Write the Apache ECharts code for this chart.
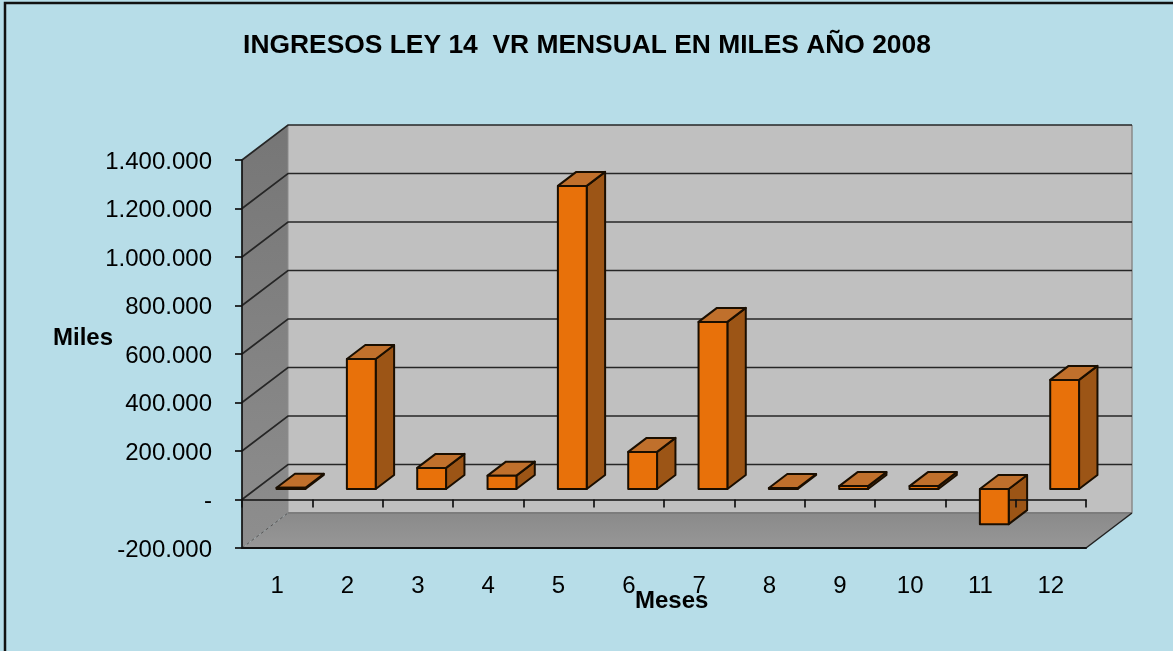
<!DOCTYPE html>
<html><head><meta charset="utf-8">
<style>html,body{margin:0;padding:0;background:#b7dde8}#c{width:1173px;height:651px}</style>
<script src="https://cdn.jsdelivr.net/npm/echarts@6/dist/echarts.min.js"></script>
</head><body><div id="c"></div>
<script>
const categories = ['1','2','3','4','5','6','7','8','9','10','11','12'];
const values = [5000, 536000, 87000, 55000, 1250000, 153000, 689000, 4000, 12000, 12000, -145000, 450000];
const yTicks = [-200000,0,200000,400000,600000,800000,1000000,1200000,1400000];
const yTickLabels = ['-200.000','-','200.000','400.000','600.000','800.000','1.000.000','1.200.000','1.400.000'];
const chartTitle = 'INGRESOS LEY 14  VR MENSUAL EN MILES AÑO 2008';
const xName = 'Meses', yName = 'Miles';

const FONT = '"Liberation Sans", Arial, sans-serif';
const DX = 46, DY = -35;          // full depth of the box
const BAR_D0 = 0.30, BAR_D1 = 0.70; // bar depth as share of box depth
const BAR_W = 0.41;

const yMin = yTicks[0], yMax = yTicks[yTicks.length-1];
function extent(api){
  const band = api.size([1,0])[0];
  return {
    l: api.coord([0,0])[0]-band/2,
    r: api.coord([categories.length-1,0])[0]+band/2,
    t: api.coord([0,yMax])[1],
    b: api.coord([0,yMin])[1]
  };
}
const poly = (pts,style,z2) => ({type:'polygon',shape:{points:pts},style,z2});
const vGrad = (a,b) => new echarts.graphic.LinearGradient(0,0,0,1,[{offset:0,color:a},{offset:1,color:b}]);

function renderWalls(p,api){
  const e = extent(api);
  return {type:'group',children:[
    poly([[e.l+DX,e.t+DY],[e.r+DX,e.t+DY],[e.r+DX,e.b+DY],[e.l+DX,e.b+DY]],{fill:'#c0c0c0'}),
    poly([[e.l,e.t],[e.l+DX,e.t+DY],[e.l+DX,e.b+DY],[e.l,e.b]],{fill:vGrad('#767676','#8e8e8e')}),
    poly([[e.l,e.b],[e.r,e.b],[e.r+DX,e.b+DY],[e.l+DX,e.b+DY]],{fill:vGrad('#8a8a8a','#979797')}),
    {type:'line',shape:{x1:e.r+DX,y1:e.t+DY,x2:e.r+DX,y2:e.b+DY},style:{stroke:'#8a8a8a',lineWidth:1.5}},
    {type:'line',shape:{x1:e.l+DX,y1:e.t+DY,x2:e.l+DX,y2:e.b+DY},style:{stroke:'#8c8c8c',lineWidth:1}},
    {type:'line',shape:{x1:e.l+DX,y1:e.b+DY,x2:e.r+DX,y2:e.b+DY},style:{stroke:'#7c7c7c',lineWidth:2}},
    {type:'line',shape:{x1:e.r,y1:e.b,x2:e.r+DX,y2:e.b+DY},style:{stroke:'#222',lineWidth:1.5}}
  ]};
}
function renderGrid(p,api){
  const e = extent(api), v = api.value(0);
  const y = api.coord([0,v])[1];
  if(v===yMin) return {type:'polyline',shape:{points:[[e.l,y],[e.l+DX,y+DY]]},style:{stroke:'#555',lineWidth:1,lineDash:[3,3],fill:null}};
  return {type:'polyline',shape:{points:[[e.l,y],[e.l+DX,y+DY],[e.r+DX,y+DY]]},style:{stroke:'#262626',lineWidth:1.7,fill:null}};
}
function barGeom(api){
  const c = api.value(0), v = api.value(1);
  const band = api.size([1,0])[0], w = band*BAR_W;
  const x0 = api.coord([c,0])[0]-w/2+DX*BAR_D0, x1 = x0+w;
  const o = DY*BAR_D0;
  const base = api.coord([c,0])[1]+o, tip = api.coord([c,v])[1]+o;
  return {x0,x1,yt:Math.min(base,tip),yb:Math.max(base,tip),dx:DX*(BAR_D1-BAR_D0),dy:DY*(BAR_D1-BAR_D0)};
}
const EDGE = {stroke:'#1a0e00',lineWidth:2,lineJoin:'round'};
function renderBarBack(p,api){
  const g = barGeom(api);
  return {type:'group',children:[
    poly([[g.x1,g.yt],[g.x1+g.dx,g.yt+g.dy],[g.x1+g.dx,g.yb+g.dy],[g.x1,g.yb]],Object.assign({fill:'#9c5516'},EDGE)),
    poly([[g.x0,g.yt],[g.x0+g.dx,g.yt+g.dy],[g.x1+g.dx,g.yt+g.dy],[g.x1,g.yt]],Object.assign({fill:'#c0702c'},EDGE))
  ]};
}
function renderBarFront(p,api){
  const g = barGeom(api);
  return {type:'rect',shape:{x:g.x0,y:g.yt,width:g.x1-g.x0,height:g.yb-g.yt},style:Object.assign({fill:'#e8710a'},EDGE)};
}
const barData = categories.map((c,i)=>[i,values[i]]);

const chart = echarts.init(document.getElementById('c'),null,{renderer:'canvas'});
chart.setOption({
  animation:false,
  backgroundColor:'#b7dde8',
  title:{text:chartTitle,left:582,top:28,textAlign:'center',textStyle:{fontFamily:FONT,fontWeight:'bold',fontSize:26.4,color:'#000'}},
  grid:{left:242,top:160,width:844,height:388,containLabel:false},
  xAxis:[
    {type:'category',data:categories,position:'bottom',z:5,
     axisLine:{onZero:true,lineStyle:{color:'#111',width:1.7}},
     axisTick:{show:true,length:8,inside:false,lineStyle:{color:'#111',width:1.7}},
     axisLabel:{show:false},splitLine:{show:false}},
    {type:'category',data:categories,position:'bottom',z:4,
     axisLine:{onZero:false,lineStyle:{color:'#111',width:2}},
     axisTick:{show:false},
     axisLabel:{margin:26,fontFamily:FONT,fontSize:24,color:'#000',interval:0},splitLine:{show:false}}
  ],
  yAxis:{type:'value',min:yMin,max:yMax,interval:200000,z:5,
    axisLine:{show:true,onZero:false,lineStyle:{color:'#111',width:1.7}},
    axisTick:{show:true,length:7,lineStyle:{color:'#111',width:1.7}},
    splitLine:{show:false},
    axisLabel:{margin:30,color:'#000',
      rich:{v:{fontFamily:FONT,fontSize:24,color:'#000',padding:[4,0,0,0]}},
      formatter:v=>'{v|'+yTickLabels[yTicks.indexOf(v)]+'}'}},
  graphic:[
    {type:'text',left:53,top:326,z:20,style:{text:yName,font:'bold 24px '+FONT,fill:'#000'}},
    {type:'text',left:635,top:589,z:20,style:{text:xName,font:'bold 24px '+FONT,fill:'#000'}},
    {type:'polyline',z:20,shape:{points:[[5,651],[5,3],[1173,3]]},style:{fill:null,stroke:'#111',lineWidth:2.5}}
  ],
  series:[
    {type:'custom',name:'walls',z:1,silent:true,clip:false,data:[[0]],renderItem:renderWalls,encode:{x:0}},
    {type:'custom',name:'grid',z:2,silent:true,clip:false,data:yTicks.map(v=>[v]),renderItem:renderGrid,encode:{y:0}},
    {type:'custom',name:'barSides',z:3,clip:false,data:barData,renderItem:renderBarBack,encode:{x:0,y:1}},
    {type:'custom',name:'barFronts',z:6,clip:false,data:barData,renderItem:renderBarFront,encode:{x:0,y:1}}
  ]
});
</script></body></html>
